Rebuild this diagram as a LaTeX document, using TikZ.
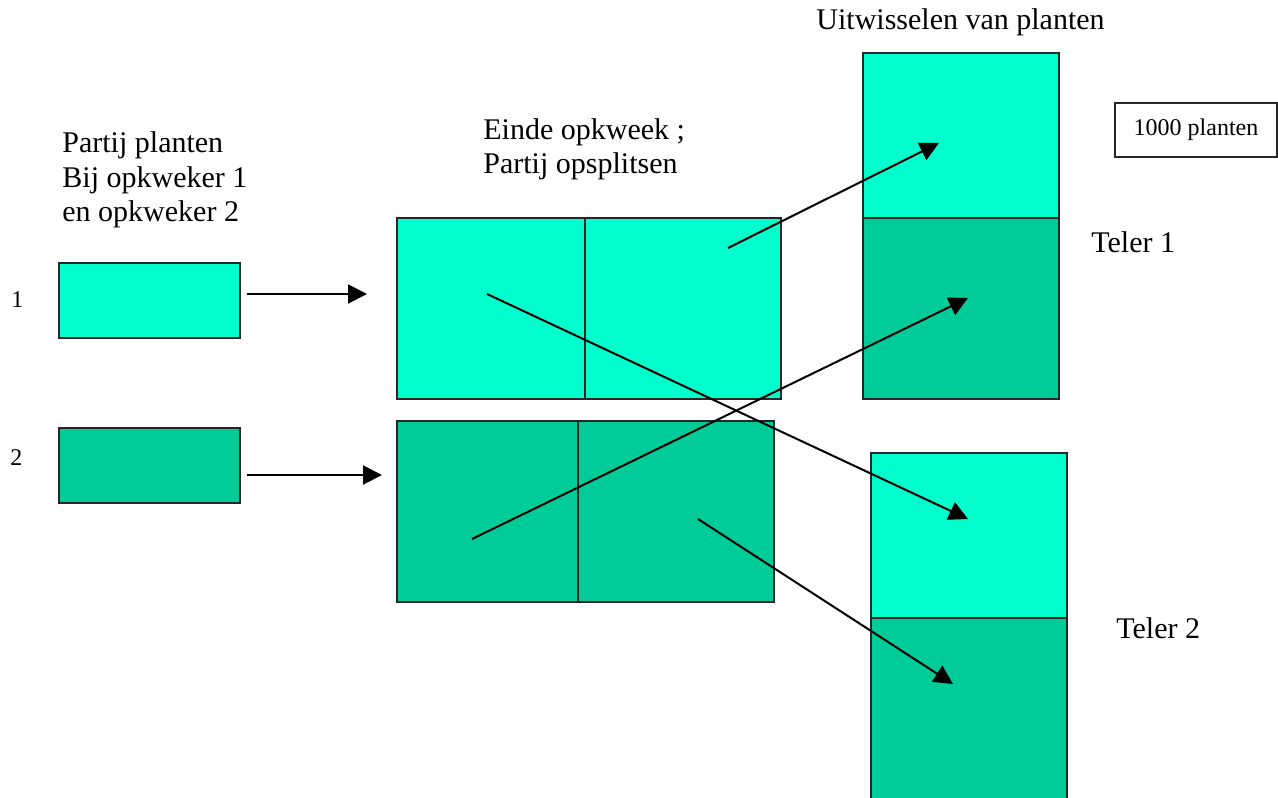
\documentclass[tikz,border=0pt]{standalone}
\usepackage{fontspec}
\setmainfont{Liberation Serif}
\usetikzlibrary{arrows.meta}
\definecolor{batchA}{HTML}{00FFCC}
\definecolor{batchB}{HTML}{00CC99}
\tikzset{
  tray/.style={draw=black!85, line width=1pt, inner sep=0pt},
  lightTray/.style={tray, fill=batchA},
  darkTray/.style={tray, fill=batchB},
  flow/.style={line width=1pt, -{Triangle[length=9.5pt,width=9.5pt]}},
  caption/.style={anchor=base west, inner sep=0pt, font=\fontsize{15}{17}\selectfont},
  smallcap/.style={anchor=base west, inner sep=0pt, font=\fontsize{12}{14}\selectfont},
}
\begin{document}
\begin{tikzpicture}[x=0.5pt, y=-0.5pt]
  \useasboundingbox (0,0) rectangle (1278,797);
  \clip (0,0) rectangle (1278,797);

  % headings
  \node[caption] (hExchange) at (816,30) {Uitwisselen van planten};
  \node[caption] (hEnd1) at (483,140) {Einde opkweek ;};
  \node[caption] (hEnd2) at (483,173) {Partij opsplitsen};
  \node[caption] (hBatch1) at (62,152) {Partij planten};
  \node[caption] (hBatch2) at (62,187) {Bij opkweker 1};
  \node[caption] (hBatch3) at (62,221) {en opkweker 2};
  \node[caption] (hGrower1) at (1091,252) {Teler 1};
  \node[caption] (hGrower2) at (1116,638) {Teler 2};
  \node[smallcap] (lOne) at (11,307) {1};
  \node[smallcap] (lTwo) at (10,465) {2};

  % legend
  \node[tray, fill=white, minimum width=81pt, minimum height=27pt,
        font=\fontsize{12}{14}\selectfont] (legend) at (1196,130) {1000 planten};

  % batches at the two raisers
  \node[lightTray, minimum width=90.5pt, minimum height=37.5pt] (p1) at (149.5,300.5) {};
  \node[darkTray,  minimum width=90.5pt, minimum height=37.5pt] (p2) at (149.5,465.5) {};

  % batches split at the end of raising
  \node[lightTray, minimum width=94pt,   minimum height=90.5pt] (s1a) at (491,308.5) {};
  \node[lightTray, minimum width=98pt,   minimum height=90.5pt] (s1b) at (683,308.5) {};
  \node[darkTray,  minimum width=90.5pt, minimum height=90.5pt] (s2a) at (487.5,511.5) {};
  \node[darkTray,  minimum width=98pt,   minimum height=90.5pt] (s2b) at (676,511.5) {};

  % growers
  \node[lightTray, minimum width=98pt, minimum height=82.5pt] (t1a) at (961,135.5) {};
  \node[darkTray,  minimum width=98pt, minimum height=90.5pt] (t1b) at (961,308.5) {};
  \node[lightTray, minimum width=98pt, minimum height=82.5pt] (t2a) at (969,535.5) {};
  \node[darkTray,  minimum width=98pt, minimum height=100pt]  (t2b) at (969,718) {};

  % connector end points
  \coordinate (a1s) at (247,294);  \coordinate (a1e) at (367,294);
  \coordinate (a2s) at (247,475);  \coordinate (a2e) at (382,475);
  \coordinate (xa)  at (728,248);  \coordinate (xat) at (939,143);
  \coordinate (xb)  at (487,294);  \coordinate (xbt) at (968,519);
  \coordinate (xc)  at (472,539);  \coordinate (xct) at (968,298);
  \coordinate (xd)  at (698,519);  \coordinate (xdt) at (953,684);

  % flows
  \draw[flow] (a1s) -- (a1e);
  \draw[flow] (a2s) -- (a2e);
  \draw[flow] (xa) -- (xat);
  \draw[flow] (xb) -- (xbt);
  \draw[flow] (xc) -- (xct);
  \draw[flow] (xd) -- (xdt);
\end{tikzpicture}
\end{document}
